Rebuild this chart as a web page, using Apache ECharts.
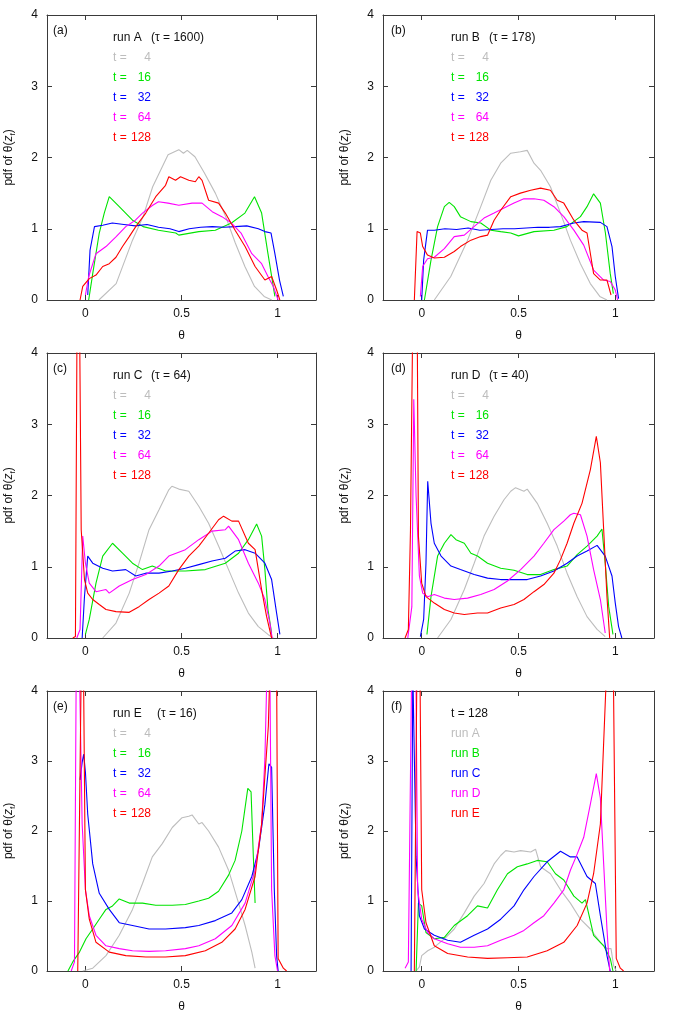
<!DOCTYPE html>
<html>
<head>
<meta charset="utf-8">
<script src="https://cdn.jsdelivr.net/npm/echarts@6/dist/echarts.min.js"></script>
<style>
  html, body { margin: 0; padding: 0; background: #fff; }
  #chart { width: 676px; height: 1014px; }
</style>
</head>
<body>
<div id="chart"></div>
<script>
"use strict"

// axis ticks
var xTicks = [0, 0.5, 1];
var yTicks = [0, 1, 2, 3, 4];

// panel labels and legend texts
var panelTags = ['(a)', '(b)', '(c)', '(d)', '(e)', '(f)'];
var panelTitles = ['run A', 'run B', 'run C', 'run D', 'run E', 't = 128'];
var panelTaus = ['(τ = 1600)', '(τ = 178)', '(τ = 64)', '(τ = 40)', '(τ = 16)', ''];
var timeLabels = ['4', '16', '32', '64', '128'];
var runLabels = ['run A', 'run B', 'run C', 'run D', 'run E'];
var lineColors = ['#bdbdbd', '#00e400', '#0000ff', '#ff00ff', '#ff0000'];

// ---- panel (a): run A ----
var a_t4 = [[0.07,0],[0.16,0.23],[0.245,0.84],[0.30,1.17],[0.35,1.59],[0.40,1.87],[0.43,2.04],[0.486,2.11],[0.51,2.06],[0.53,2.1],[0.57,2.01],[0.62,1.78],[0.676,1.5],[0.73,1.17],[0.78,0.8],[0.83,0.47],[0.88,0.19],[0.93,0.05],[0.97,0]];
var a_t16 = [[0.017,0],[0.038,0.37],[0.072,0.94],[0.098,1.22],[0.124,1.45],[0.176,1.31],[0.245,1.12],[0.30,1.03],[0.38,0.98],[0.47,0.94],[0.486,0.91],[0.59,0.96],[0.676,0.98],[0.76,1.08],[0.83,1.22],[0.88,1.45],[0.917,1.22],[0.95,0.65],[0.986,0.05]];
var a_t32 = [[0.012,0.07],[0.024,0.7],[0.047,1.03],[0.09,1.05],[0.14,1.08],[0.2,1.06],[0.26,1.04],[0.32,1.06],[0.38,1.02],[0.44,1.0],[0.486,0.96],[0.54,1.0],[0.6,1.02],[0.66,1.03],[0.72,1.02],[0.78,1.03],[0.84,1.04],[0.9,1.0],[0.934,0.96],[0.966,0.94],[0.986,0.65],[1.01,0.28],[1.03,0.05]];
var a_t64 = [[0,0.07],[0.017,0.33],[0.055,0.65],[0.107,0.75],[0.16,0.89],[0.21,1.03],[0.26,1.12],[0.297,1.22],[0.35,1.33],[0.38,1.38],[0.43,1.36],[0.486,1.33],[0.555,1.36],[0.607,1.36],[0.66,1.24],[0.71,1.17],[0.76,1.08],[0.81,0.94],[0.866,0.65],[0.917,0.51],[0.95,0.33],[0.978,0.19],[1.003,0]];
var a_t128 = [[-0.028,0],[-0.014,0.19],[0.02,0.3],[0.055,0.35],[0.09,0.47],[0.124,0.51],[0.159,0.6],[0.193,0.75],[0.228,0.89],[0.262,1.03],[0.314,1.22],[0.366,1.45],[0.417,1.61],[0.434,1.73],[0.469,1.68],[0.495,1.73],[0.538,1.68],[0.572,1.66],[0.59,1.73],[0.607,1.68],[0.641,1.4],[0.693,1.36],[0.728,1.22],[0.779,0.98],[0.831,0.75],[0.883,0.47],[0.934,0.28],[0.969,0.33],[0.995,0.14],[1.012,0]];

// ---- panel (b): run B ----
var b_t4 = [[0.065,0],[0.15,0.33],[0.237,0.84],[0.305,1.31],[0.357,1.68],[0.408,1.92],[0.46,2.06],[0.51,2.08],[0.545,2.1],[0.58,1.92],[0.614,1.82],[0.665,1.59],[0.717,1.22],[0.768,0.84],[0.82,0.51],[0.871,0.23],[0.92,0.05],[0.957,0]];
var b_t16 = [[0.014,0],[0.048,0.56],[0.082,1.03],[0.117,1.31],[0.142,1.37],[0.168,1.31],[0.2,1.17],[0.254,1.1],[0.305,1.08],[0.357,0.98],[0.408,0.96],[0.46,0.94],[0.5,0.9],[0.58,0.96],[0.683,0.98],[0.75,1.03],[0.82,1.17],[0.854,1.31],[0.888,1.49],[0.923,1.36],[0.949,0.94],[0.974,0.37],[0.99,0.09]];
var b_t32 = [[0,0],[0.01,0.56],[0.03,0.98],[0.065,0.98],[0.12,1.0],[0.18,0.99],[0.24,1.01],[0.3,0.98],[0.36,0.99],[0.42,1.0],[0.48,1.0],[0.54,1.01],[0.6,1.02],[0.66,1.02],[0.717,1.03],[0.786,1.08],[0.837,1.1],[0.923,1.09],[0.957,1.03],[0.983,0.75],[1.0,0.33],[1.017,0.02]];
var b_t64 = [[-0.007,0.05],[0.005,0.47],[0.03,0.58],[0.065,0.6],[0.117,0.72],[0.168,0.89],[0.22,0.91],[0.27,1.03],[0.322,1.15],[0.374,1.22],[0.425,1.29],[0.477,1.36],[0.528,1.42],[0.58,1.42],[0.631,1.4],[0.683,1.31],[0.734,1.17],[0.786,0.98],[0.837,0.77],[0.888,0.42],[0.94,0.28],[0.974,0.26],[1.0,0.14],[1.012,0]];
var b_t128 = [[-0.038,0],[-0.024,0.96],[-0.007,0.94],[0.005,0.75],[0.03,0.63],[0.065,0.59],[0.117,0.6],[0.168,0.68],[0.2,0.75],[0.254,0.84],[0.305,0.89],[0.34,0.91],[0.374,1.12],[0.408,1.26],[0.46,1.45],[0.51,1.5],[0.563,1.54],[0.614,1.57],[0.665,1.54],[0.7,1.4],[0.734,1.36],[0.786,1.12],[0.828,0.98],[0.854,0.94],[0.888,0.37],[0.923,0.28],[0.957,0.28],[0.978,0.07]];

// ---- panel (c): run C ----
var c_t4 = [[0.09,0],[0.159,0.21],[0.228,0.63],[0.279,1.05],[0.331,1.52],[0.383,1.8],[0.434,2.08],[0.45,2.13],[0.486,2.09],[0.538,2.06],[0.59,1.85],[0.641,1.61],[0.693,1.29],[0.745,0.96],[0.797,0.63],[0.848,0.35],[0.9,0.16],[0.95,0.05],[0.978,0]];
var c_t16 = [[0,0.05],[0.02,0.26],[0.055,0.77],[0.09,1.15],[0.141,1.33],[0.193,1.19],[0.245,1.05],[0.297,0.96],[0.348,1.01],[0.417,0.94],[0.52,0.94],[0.624,0.96],[0.728,1.05],[0.797,1.19],[0.848,1.38],[0.891,1.6],[0.917,1.43],[0.934,0.96],[0.95,0.4],[0.969,0.07]];
var c_t32 = [[-0.017,0],[-0.005,0.58],[0.012,1.15],[0.038,1.05],[0.09,0.98],[0.141,0.94],[0.21,0.96],[0.262,0.87],[0.314,0.91],[0.383,0.91],[0.452,0.94],[0.52,0.98],[0.59,1.03],[0.659,1.08],[0.728,1.12],[0.779,1.22],[0.831,1.24],[0.883,1.19],[0.934,1.05],[0.969,0.82],[0.995,0.35],[1.012,0.05]];
var c_t64 = [[-0.045,0],[-0.028,0.12],[-0.014,1.43],[0,1.05],[0.02,0.77],[0.055,0.65],[0.107,0.68],[0.124,0.63],[0.176,0.73],[0.245,0.82],[0.314,0.89],[0.383,1.01],[0.434,1.15],[0.52,1.24],[0.59,1.38],[0.659,1.5],[0.728,1.52],[0.745,1.57],[0.797,1.38],[0.848,1.05],[0.9,0.77],[0.934,0.54],[0.96,0.21],[0.972,0]];
var c_t128 = [[-0.066,0],[-0.052,0.02],[-0.044,4.3],[-0.03,4.3],[-0.022,1.52],[-0.005,0.82],[0.012,0.63],[0.038,0.54],[0.072,0.47],[0.107,0.4],[0.159,0.37],[0.228,0.36],[0.279,0.44],[0.331,0.54],[0.383,0.63],[0.434,0.73],[0.486,0.96],[0.538,1.15],[0.59,1.29],[0.641,1.47],[0.693,1.66],[0.719,1.71],[0.762,1.64],[0.797,1.64],[0.848,1.33],[0.883,1.24],[0.917,0.68],[0.943,0.3],[0.969,0]];

// ---- panel (d): run D ----
var d_t4 = [[0.082,0],[0.151,0.26],[0.22,0.68],[0.271,1.05],[0.322,1.43],[0.374,1.71],[0.425,1.94],[0.46,2.06],[0.485,2.11],[0.528,2.06],[0.545,2.09],[0.597,1.89],[0.648,1.61],[0.7,1.29],[0.751,0.91],[0.803,0.58],[0.854,0.3],[0.906,0.12],[0.948,0.02]];
var d_t16 = [[0.027,0.05],[0.048,0.58],[0.082,1.15],[0.117,1.33],[0.151,1.45],[0.177,1.38],[0.22,1.33],[0.254,1.19],[0.288,1.15],[0.34,1.05],[0.408,0.98],[0.477,0.95],[0.545,0.89],[0.614,0.89],[0.683,0.96],[0.751,1.01],[0.803,1.17],[0.854,1.29],[0.906,1.43],[0.931,1.53],[0.948,1.05],[0.966,0.44],[0.988,0.05]];
var d_t32 = [[-0.007,0.02],[0.01,0.26],[0.022,1.05],[0.031,2.2],[0.048,1.61],[0.065,1.33],[0.1,1.15],[0.151,1.01],[0.2,0.96],[0.271,0.89],[0.34,0.84],[0.408,0.82],[0.477,0.82],[0.545,0.82],[0.614,0.87],[0.683,0.94],[0.751,1.05],[0.803,1.15],[0.854,1.22],[0.906,1.3],[0.948,1.15],[0.983,0.87],[1.0,0.49],[1.017,0.16],[1.034,0]];
var d_t64 = [[-0.072,0],[-0.051,0.44],[-0.041,3.35],[-0.029,1.99],[-0.012,0.87],[0.005,0.63],[0.031,0.58],[0.065,0.61],[0.117,0.56],[0.168,0.54],[0.237,0.56],[0.305,0.61],[0.374,0.68],[0.443,0.8],[0.511,0.96],[0.58,1.15],[0.631,1.33],[0.683,1.52],[0.734,1.64],[0.768,1.73],[0.786,1.75],[0.82,1.73],[0.854,1.43],[0.888,0.96],[0.923,0.54],[0.948,0.07]];
var d_t128 = [[-0.086,0],[-0.069,0.12],[-0.058,1.52],[-0.047,4.3],[-0.023,4.3],[-0.017,1.43],[0,0.77],[0.022,0.58],[0.065,0.49],[0.117,0.4],[0.168,0.35],[0.22,0.33],[0.288,0.35],[0.34,0.35],[0.408,0.42],[0.477,0.47],[0.528,0.54],[0.58,0.65],[0.631,0.75],[0.683,0.91],[0.717,1.1],[0.751,1.33],[0.786,1.61],[0.828,1.89],[0.871,2.36],[0.902,2.83],[0.923,2.46],[0.94,1.52],[0.957,0.58],[0.971,0]];

// ---- panel (e): run E ----
var e_t4 = [[-0.014,0],[0.038,0.04],[0.107,0.22],[0.176,0.51],[0.245,0.88],[0.297,1.25],[0.348,1.63],[0.4,1.82],[0.452,2.05],[0.503,2.19],[0.538,2.21],[0.555,2.23],[0.59,2.1],[0.607,2.12],[0.641,2.0],[0.693,1.77],[0.745,1.44],[0.797,0.97],[0.831,0.65],[0.866,0.27],[0.883,0.04]];
var e_t16 = [[-0.091,0],[-0.066,0.13],[-0.031,0.27],[0.003,0.46],[0.038,0.6],[0.072,0.74],[0.107,0.88],[0.141,0.93],[0.176,1.03],[0.228,0.97],[0.297,0.97],[0.366,0.94],[0.452,0.94],[0.52,0.95],[0.59,1.0],[0.641,1.04],[0.693,1.14],[0.745,1.37],[0.779,1.58],[0.814,2.0],[0.845,2.61],[0.862,2.56],[0.874,1.63],[0.883,0.97]];
var e_t32 = [[-0.028,2.73],[-0.017,2.98],[-0.009,3.1],[0,2.84],[0.012,2.24],[0.038,1.53],[0.072,1.11],[0.124,0.88],[0.176,0.69],[0.245,0.65],[0.331,0.6],[0.417,0.6],[0.52,0.62],[0.59,0.65],[0.676,0.72],[0.762,0.83],[0.814,1.02],[0.866,1.35],[0.9,1.72],[0.934,2.38],[0.955,2.96],[0.969,2.91],[0.983,1.16],[0.995,0.22],[1.003,0]];
var e_t64 = [[-0.074,0],[-0.057,0.13],[-0.048,4.3],[-0.031,4.3],[-0.017,2.1],[0,1.16],[0.02,0.79],[0.055,0.51],[0.107,0.36],[0.176,0.32],[0.245,0.29],[0.331,0.28],[0.417,0.29],[0.52,0.32],[0.59,0.36],[0.676,0.46],[0.762,0.65],[0.831,0.97],[0.883,1.44],[0.917,2.1],[0.934,3.03],[0.945,4.3],[0.96,4.3],[0.969,1.16],[0.986,0.22],[1.0,0]];
var e_t128 = [[-0.04,0],[-0.022,4.3],[-0.01,4.3],[0,1.16],[0.02,0.74],[0.055,0.41],[0.124,0.27],[0.21,0.22],[0.314,0.2],[0.417,0.2],[0.52,0.22],[0.624,0.29],[0.71,0.41],[0.779,0.6],[0.831,0.88],[0.883,1.35],[0.917,2.1],[0.952,3.5],[0.96,4.3],[0.995,4.3],[1.003,0.18],[1.03,0.04],[1.047,0]];

// ---- panel (f): t = 128, all runs ----
var f_runA = [[-0.029,0],[-0.012,0.06],[0,0.22],[0.031,0.29],[0.065,0.34],[0.117,0.46],[0.168,0.6],[0.22,0.83],[0.271,1.07],[0.322,1.25],[0.374,1.53],[0.408,1.65],[0.434,1.72],[0.477,1.7],[0.511,1.72],[0.563,1.7],[0.588,1.74],[0.614,1.49],[0.665,1.39],[0.717,1.16],[0.768,0.97],[0.82,0.74],[0.871,0.6],[0.923,0.41],[0.957,0.32],[0.978,0.32],[0.991,0.08],[1.005,0]];
var f_runB = [[-0.029,0],[-0.017,0.97],[0,0.93],[0.022,0.55],[0.065,0.46],[0.117,0.48],[0.168,0.65],[0.237,0.79],[0.288,0.93],[0.34,0.9],[0.391,1.16],[0.443,1.39],[0.494,1.49],[0.545,1.53],[0.597,1.58],[0.648,1.56],[0.691,1.39],[0.734,1.3],[0.786,1.07],[0.828,0.97],[0.846,1.02],[0.888,0.51],[0.94,0.36],[0.974,0.18],[0.988,0]];
var f_runC = [[-0.055,0],[-0.046,4.3],[-0.037,4.3],[-0.029,1.63],[-0.012,0.79],[0.014,0.6],[0.065,0.51],[0.134,0.44],[0.2,0.41],[0.271,0.51],[0.34,0.6],[0.408,0.74],[0.477,0.93],[0.528,1.16],[0.58,1.35],[0.648,1.56],[0.717,1.71],[0.768,1.63],[0.803,1.63],[0.854,1.35],[0.897,1.25],[0.923,0.79],[0.957,0.22],[0.974,0]];
var f_runD = [[-0.086,0.04],[-0.069,0.13],[-0.052,4.3],[-0.03,4.3],[-0.021,1.16],[0,0.74],[0.031,0.55],[0.065,0.46],[0.134,0.39],[0.2,0.34],[0.271,0.34],[0.34,0.36],[0.408,0.44],[0.477,0.51],[0.528,0.58],[0.58,0.69],[0.631,0.79],[0.683,0.97],[0.734,1.16],[0.768,1.44],[0.803,1.67],[0.837,1.91],[0.871,2.38],[0.902,2.82],[0.923,2.47],[0.94,1.53],[0.957,0.6],[0.971,0]];
var f_runE = [[-0.038,0],[-0.025,4.3],[-0.009,4.3],[0,1.16],[0.022,0.69],[0.065,0.36],[0.134,0.25],[0.237,0.2],[0.34,0.18],[0.443,0.19],[0.545,0.2],[0.648,0.29],[0.734,0.41],[0.803,0.65],[0.854,0.97],[0.888,1.39],[0.923,2.1],[0.955,4.3],[0.99,4.3],[1.005,0.18],[1.026,0.04],[1.043,0]];

var panelData = [
  [a_t4, a_t16, a_t32, a_t64, a_t128],
  [b_t4, b_t16, b_t32, b_t64, b_t128],
  [c_t4, c_t16, c_t32, c_t64, c_t128],
  [d_t4, d_t16, d_t32, d_t64, d_t128],
  [e_t4, e_t16, e_t32, e_t64, e_t128],
  [f_runA, f_runB, f_runC, f_runD, f_runE]
];

var FONT = 'Liberation Sans, Arial, Helvetica, sans-serif';
var ink = '#3a3a3a';
var colLeft = [45, 383];
var rowTop = [15, 353, 691];
var gw = 271, gh = 285;

var grids = [], xAxes = [], yAxes = [], series = [], texts = [];

for (var p = 0; p < 6; p++) {
  var L = colLeft[p % 2], T = rowTop[Math.floor(p / 2)];
  grids.push({ left: L, top: T, width: gw, height: gh, containLabel: false });

  var tickX = { show: true, inside: true, length: 5, lineStyle: { color: ink }, customValues: xTicks };
  xAxes.push({
    gridIndex: p, type: 'value', min: -0.2, max: 1.2, position: 'bottom',
    axisLine: { show: true, onZero: false, lineStyle: { color: ink, width: 1 } },
    axisTick: tickX,
    axisLabel: { show: true, customValues: xTicks, margin: 8, color: '#111', fontSize: 12, fontFamily: FONT,
      formatter: function (v) { return String(v); } },
    splitLine: { show: false },
    name: 'θ', nameLocation: 'middle', nameGap: 30,
    nameTextStyle: { color: '#111', fontSize: 12, fontFamily: FONT }
  });
  xAxes.push({
    gridIndex: p, type: 'value', min: -0.2, max: 1.2, position: 'top',
    axisLine: { show: true, onZero: false, lineStyle: { color: ink, width: 1 } },
    axisTick: tickX, axisLabel: { show: false }, splitLine: { show: false }
  });

  var tickY = { show: true, inside: true, length: 5, lineStyle: { color: ink } };
  yAxes.push({
    gridIndex: p, type: 'value', min: 0, max: 4, interval: 1, position: 'left',
    axisLine: { show: true, onZero: false, lineStyle: { color: ink, width: 1 } },
    axisTick: tickY,
    axisLabel: { show: true, margin: 9, color: '#111', fontSize: 12, fontFamily: FONT,
      formatter: function (v) { return yTicks.indexOf(v) >= 0 ? String(v) : ''; } },
    splitLine: { show: false },
    name: 'pdf of θ({i|z}{s|f})', nameLocation: 'middle', nameGap: 30,
    nameTextStyle: { color: '#111', fontSize: 12, fontFamily: FONT, lineHeight: 16,
      rich: {
        i: { fontStyle: 'italic', fontSize: 12, fontFamily: FONT, color: '#111', lineHeight: 16 },
        s: { fontSize: 8, fontFamily: FONT, color: '#111', lineHeight: 9, verticalAlign: 'bottom' }
      } }
  });
  yAxes.push({
    gridIndex: p, type: 'value', min: 0, max: 4, interval: 1, position: 'right',
    axisLine: { show: true, onZero: false, lineStyle: { color: ink, width: 1 } },
    axisTick: tickY, axisLabel: { show: false }, splitLine: { show: false }
  });

  for (var k = 0; k < 5; k++) {
    series.push({
      type: 'line', xAxisIndex: 2 * p, yAxisIndex: 2 * p,
      data: panelData[p][k], showSymbol: false, symbol: 'none', clip: true,
      lineStyle: { color: lineColors[k], width: 1.1 }, z: 2 + k
    });
  }

  // panel text
  texts.push({ type: 'text', left: L + 8, top: T + 10,
    style: { text: panelTags[p], fill: '#111', font: '12px ' + FONT } });
  texts.push({ type: 'text', left: L + 68, top: T + 17,
    style: { text: panelTitles[p], fill: '#111', font: '12px ' + FONT } });
  if (panelTaus[p]) {
    texts.push({ type: 'text', left: L + (p === 4 ? 112 : 106), top: T + 17,
      style: { text: panelTaus[p], fill: '#111', font: '12px ' + FONT } });
  }
  for (var j = 0; j < 5; j++) {
    var ty = T + 37 + j * 20;
    if (p < 5) {
      texts.push({ type: 'text', left: L + 68, top: ty,
        style: { text: 't =', fill: lineColors[j], font: '12px ' + FONT } });
      texts.push({ type: 'text', x: L + 106, y: ty,
        style: { text: timeLabels[j], fill: lineColors[j], font: '12px ' + FONT, textAlign: 'right', textVerticalAlign: 'top' } });
    } else {
      texts.push({ type: 'text', left: L + 68, top: ty,
        style: { text: runLabels[j], fill: lineColors[j], font: '12px ' + FONT } });
    }
  }
}

var chart = echarts.init(document.getElementById('chart'), null, { renderer: 'canvas' });
chart.setOption({
  backgroundColor: '#fff',
  animation: false,
  grid: grids,
  xAxis: xAxes,
  yAxis: yAxes,
  series: series,
  graphic: texts
});
</script>
</body>
</html>
